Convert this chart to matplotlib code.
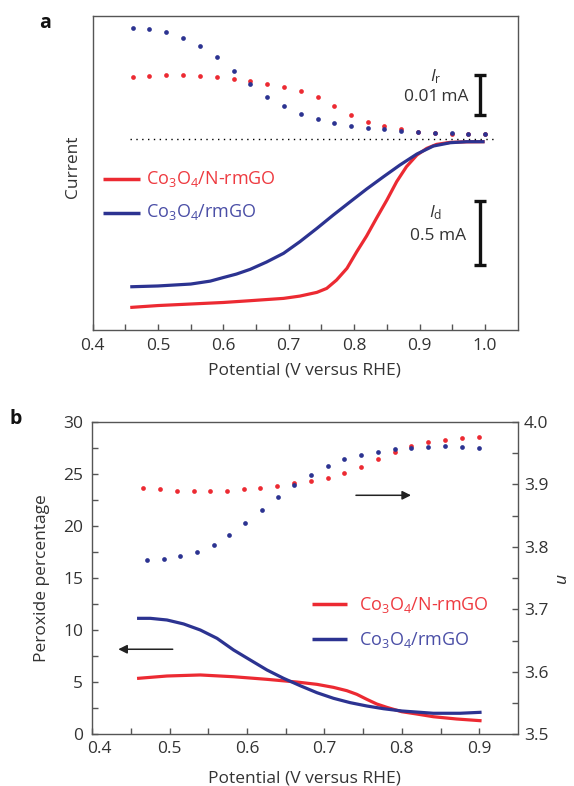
import matplotlib
matplotlib.use("Agg")
import matplotlib.pyplot as plt
import matplotlib.transforms as mtransforms
from matplotlib.lines import Line2D
from matplotlib.ticker import FixedLocator

FONT = "Open Sans"
plt.rcParams['font.family'] = [FONT, 'DejaVu Sans']
plt.rcParams['mathtext.fontset'] = 'custom'
plt.rcParams['mathtext.rm'] = FONT
plt.rcParams['mathtext.it'] = FONT + ':italic'
plt.rcParams['mathtext.bf'] = FONT + ':bold'

RED = '#ec2a32'
BLUE = '#2c3391'
RED_T = '#ee3a40'
BLUE_T = '#4a4ea6'
TXT = '#333333'
SPINE = '#555555'

# ---------------- data, panel a ----------------
ring_x = [0.462, 0.487, 0.513, 0.539, 0.564, 0.590, 0.616, 0.641, 0.667, 0.692, 0.718,
          0.744, 0.769, 0.795, 0.821, 0.846, 0.872, 0.897, 0.923, 0.949, 0.974, 1.000]
ring_red_uA = [15.6, 15.8, 16.1, 16.1, 15.8, 15.5, 15.1, 14.5, 13.8, 13.1, 12.1,
               10.4, 8.25, 6.0, 4.3, 3.25, 2.4, 1.75, 1.5, 1.3, 1.25, 1.25]
ring_blue_uA = [27.8, 27.5, 26.8, 25.3, 23.2, 20.4, 17.1, 13.75, 10.6, 8.25, 6.3,
                5.1, 4.1, 3.3, 2.8, 2.4, 2.0, 1.7, 1.5, 1.4, 1.3, 1.25]

disk_red_x = [0.46, 0.50, 0.55, 0.60, 0.641, 0.692, 0.717, 0.743, 0.758, 0.773, 0.789,
              0.804, 0.819, 0.834, 0.850, 0.865, 0.880, 0.896, 0.911, 0.926, 0.947, 0.972, 0.997]
disk_red_mA = [-1.315, -1.301, -1.289, -1.277, -1.263, -1.245, -1.227, -1.198, -1.167,
               -1.102, -1.010, -0.880, -0.758, -0.620, -0.477, -0.333, -0.216, -0.125,
               -0.073, -0.042, -0.026, -0.022, -0.021]
disk_blue_x = [0.46, 0.50, 0.55, 0.58, 0.60, 0.62, 0.641, 0.666, 0.692, 0.717, 0.743,
               0.768, 0.794, 0.819, 0.845, 0.870, 0.896, 0.921, 0.947, 0.972, 0.997]
disk_blue_mA = [-1.154, -1.148, -1.133, -1.110, -1.082, -1.055, -1.018, -0.961, -0.893,
                -0.802, -0.698, -0.594, -0.490, -0.391, -0.294, -0.203, -0.117, -0.055,
                -0.029, -0.021, -0.021]

# ---------------- data, panel b ----------------
n_red_x = [0.4658, 0.4876, 0.5094, 0.5311, 0.5524, 0.5743, 0.5956, 0.6173, 0.6391, 0.6609,
           0.6822, 0.7044, 0.7257, 0.7476, 0.7693, 0.7906, 0.8124, 0.8337, 0.8555, 0.8773, 0.8990]
n_red = [3.894, 3.892, 3.890, 3.8895, 3.8895, 3.890, 3.892, 3.894, 3.898, 3.902, 3.906,
         3.911, 3.918, 3.928, 3.940, 3.952, 3.961, 3.9675, 3.971, 3.974, 3.9765]
n_blue_x = [0.4706, 0.4923, 0.5136, 0.5354, 0.5567, 0.5771, 0.5979, 0.6188, 0.6396, 0.6609,
            0.6822, 0.7044, 0.7257, 0.7476, 0.7693, 0.7906, 0.8124, 0.8337, 0.8555, 0.8773, 0.8990]
n_blue = [3.7786, 3.7807, 3.785, 3.7923, 3.8036, 3.819, 3.8378, 3.8586, 3.880, 3.8996, 3.9156,
          3.9296, 3.940, 3.9476, 3.9524, 3.956, 3.9588, 3.9604, 3.961, 3.9604, 3.9588]

perox_red_x = [0.460, 0.4966, 0.5396, 0.5826, 0.6257, 0.6644, 0.6902, 0.7116, 0.7289,
               0.7418, 0.7547, 0.7676, 0.7805, 0.7999, 0.8192, 0.8406, 0.8708, 0.9009]
perox_red = [5.38, 5.60, 5.70, 5.53, 5.28, 5.02, 4.80, 4.51, 4.19, 3.84, 3.36, 2.91,
             2.59, 2.17, 1.95, 1.69, 1.47, 1.31]
perox_blue_x = [0.460, 0.4751, 0.4966, 0.5181, 0.5396, 0.5612, 0.5826, 0.6041, 0.6257,
                0.6471, 0.6686, 0.6902, 0.7116, 0.7332, 0.7547, 0.7761, 0.7999, 0.8406,
                0.8751, 0.9009]
perox_blue = [11.14, 11.14, 10.98, 10.60, 10.02, 9.22, 8.10, 7.14, 6.18, 5.38, 4.67,
              4.00, 3.46, 3.04, 2.72, 2.46, 2.24, 2.02, 2.02, 2.11]

labels = ['Co$_3$O$_4$/N-rmGO', 'Co$_3$O$_4$/rmGO']

W, H = 574, 786
fig = plt.figure(figsize=(W / 100, H / 100), dpi=100)


def rect(l, t, r, b):
    return [l / W, 1 - b / H, (r - l) / W, (b - t) / H]


def fx(px):
    return px / W


def fy(py):
    return 1 - py / H


def style_spines(ax):
    for s in ax.spines.values():
        s.set_color(SPINE)
        s.set_linewidth(1.0)


FS = 12.5
MS = 3.4

# ================= panel a =================
ax = fig.add_axes(rect(92.6, 16, 518.3, 330))
ax2 = ax.twinx()
ax.set_xlim(0.4, 1.051)
ax.set_ylim(-1.492, 0.961)      # disk current, mA
ax2.set_ylim(-47.75, 30.75)      # ring current, uA
style_spines(ax)
ax2.spines[:].set_visible(False)
ax2.set_yticks([])
ax.set_yticks([])
ax.xaxis.set_major_locator(FixedLocator([0.4, 0.5, 0.6, 0.7, 0.8, 0.9, 1.0]))
ax.xaxis.set_minor_locator(FixedLocator([0.45, 0.55, 0.65, 0.75, 0.85, 0.95]))
ax.tick_params(axis='x', which='both', direction='in', length=4, width=1.0,
               color=SPINE, labelsize=FS, labelcolor=TXT, pad=5.5)
ax.set_xticklabels(['0.4', '0.5', '0.6', '0.7', '0.8', '0.9', '1.0'])

ax.plot(disk_red_x, disk_red_mA, color=RED, lw=2.3, solid_joinstyle='round')
ax.plot(disk_blue_x, disk_blue_mA, color=BLUE, lw=2.3, solid_joinstyle='round')
ax.plot([0.457, 1.017], [0, 0], color='black', lw=1.0, ls=(0, (1, 3.2)))
ax2.plot(ring_x, ring_red_uA, ls='none', marker='o', ms=MS, color=RED, mew=0)
ax2.plot(ring_x, ring_blue_uA, ls='none', marker='o', ms=MS, color=BLUE, mew=0)

# scale bars
ax2.errorbar([0.993], [11.0], yerr=[5.0], color='#111111', lw=2.4, capsize=4.5, capthick=2.4)
ax.errorbar([0.993], [-0.734], yerr=[0.25], color='#111111', lw=2.4, capsize=4.5, capthick=2.4)

fig.text(fx(436), fy(77), r'$\mathit{I}_\mathrm{r}$', ha='center', va='center', fontsize=FS, color=TXT)
fig.text(fx(469), fy(97), '0.01\u2009mA', ha='right', va='center', fontsize=FS, color=TXT)
fig.text(fx(436), fy(213), r'$\mathit{I}_\mathrm{d}$', ha='center', va='center', fontsize=FS, color=TXT)
fig.text(fx(466), fy(236.5), '0.5 mA', ha='right', va='center', fontsize=FS, color=TXT)

ax.set_xlabel('Potential (V versus RHE)', fontsize=FS, color=TXT)
ax.xaxis.set_label_coords(0.497, -0.102)
ax.xaxis.label.set_va('top')
ax.set_ylabel('Current', fontsize=FS, color=TXT)
ax.yaxis.set_label_coords(-0.028, 0.52)

# legend a (manual)
for py, lab, c, tc in [(179, labels[0], RED, RED_T), (212.5, labels[1], BLUE, BLUE_T)]:
    fig.add_artist(Line2D([fx(103), fx(139.5)], [fy(py), fy(py)], color=c, lw=2.5,
                          transform=fig.transFigure, solid_capstyle='butt'))
    fig.text(fx(146), fy(py), lab, ha='left', va='center', fontsize=FS + 0.5, color=tc)

fig.text(fx(45), fy(23), 'a', ha='center', va='center', fontsize=14, fontweight='bold', color='#111111')

# ================= panel b =================
bx = fig.add_axes(rect(92.2, 422, 518.3, 734.3))
bx2 = bx.twinx()
bx.set_xlim(0.4, 0.9504)
bx.set_ylim(0, 30)
bx2.set_ylim(3.5, 4.0)
style_spines(bx)
bx2.spines[:].set_visible(False)
bx.xaxis.set_major_locator(FixedLocator([0.4, 0.5, 0.6, 0.7, 0.8, 0.9]))
bx.xaxis.set_minor_locator(FixedLocator([0.45, 0.55, 0.65, 0.75, 0.85]))
bx.yaxis.set_major_locator(FixedLocator([0, 5, 10, 15, 20, 25, 30]))
bx.yaxis.set_minor_locator(FixedLocator([2.5, 7.5, 12.5, 17.5, 22.5, 27.5]))
bx2.yaxis.set_major_locator(FixedLocator([3.5, 3.6, 3.7, 3.8, 3.9, 4.0]))
bx2.yaxis.set_minor_locator(FixedLocator([3.55, 3.65, 3.75, 3.85, 3.95]))
bx.set_xticklabels(['0.4', '0.5', '0.6', '0.7', '0.8', '0.9'])
bx.set_yticklabels(['0', '5', '10', '15', '20', '25', '30'])
bx2.set_yticklabels(['3.5', '3.6', '3.7', '3.8', '3.9', '4.0'])
bx.tick_params(axis='x', which='both', direction='in', length=4, width=1.0,
               color=SPINE, labelsize=FS, labelcolor=TXT, pad=5)
bx.tick_params(axis='y', which='both', direction='in', length=4, width=1.0,
               color=SPINE, labelsize=FS, labelcolor=TXT, pad=6.5)
bx2.tick_params(axis='y', which='both', direction='in', length=4, width=1.0,
                color=SPINE, labelsize=FS, labelcolor=TXT, pad=4)
# nudge the "0.4" label right so it clears the "0"
lab04 = bx.get_xticklabels()[0]
lab04.set_transform(lab04.get_transform() + mtransforms.ScaledTranslation(7 / 100, 0, fig.dpi_scale_trans))

bx.plot(perox_red_x, perox_red, color=RED, lw=2.3, solid_joinstyle='round')
bx.plot(perox_blue_x, perox_blue, color=BLUE, lw=2.3, solid_joinstyle='round')
bx2.plot(n_red_x, n_red, ls='none', marker='o', ms=MS, color=RED, mew=0)
bx2.plot(n_blue_x, n_blue, ls='none', marker='o', ms=MS, color=BLUE, mew=0)

bx.annotate('', xy=(0.8118, 22.96), xytext=(0.7407, 22.96),
            arrowprops=dict(arrowstyle='-|>', color='#222222', lw=1.1, mutation_scale=13,
                            shrinkA=0, shrinkB=0))
bx.annotate('', xy=(0.4337, 8.17), xytext=(0.504, 8.17),
            arrowprops=dict(arrowstyle='-|>', color='#222222', lw=1.1, mutation_scale=13,
                            shrinkA=0, shrinkB=0))

bx.set_xlabel('Potential (V versus RHE)', fontsize=FS, color=TXT)
bx.xaxis.set_label_coords(0.497, -0.117)
bx.xaxis.label.set_va('top')
bx.set_ylabel('Peroxide percentage', fontsize=FS, color=TXT)
bx.yaxis.set_label_coords(-0.099, 0.5)
bx2.set_ylabel('$\\mathit{n}$', fontsize=FS, color=TXT, rotation=270)
bx2.yaxis.set_label_coords(1.117, 0.5)

for py, lab, c, tc in [(604, labels[0], RED, RED_T), (638.5, labels[1], BLUE, BLUE_T)]:
    fig.add_artist(Line2D([fx(311.5), fx(347)], [fy(py), fy(py)], color=c, lw=2.5,
                          transform=fig.transFigure, solid_capstyle='butt'))
    fig.text(fx(359), fy(py + 1), lab, ha='left', va='center', fontsize=FS + 0.5, color=tc)

fig.text(fx(15.5), fy(419.5), 'b', ha='center', va='center', fontsize=14, fontweight='bold', color='#111111')

fig.savefig('out.png', dpi=100)
